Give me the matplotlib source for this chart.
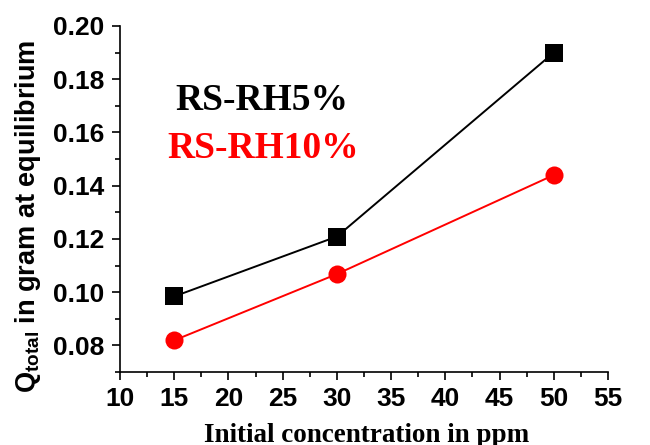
import matplotlib
matplotlib.use("Agg")
import matplotlib.pyplot as plt
from matplotlib.ticker import MultipleLocator, FormatStrFormatter

plt.rcParams['mathtext.fontset'] = 'custom'
plt.rcParams['mathtext.rm'] = 'Liberation Sans:bold'
plt.rcParams['mathtext.it'] = 'Liberation Sans:bold'
plt.rcParams['mathtext.bf'] = 'Liberation Sans:bold'

concentration = [15, 30, 50]
q_rh5 = [0.0984, 0.1209, 0.1900]
q_rh10 = [0.0819, 0.1068, 0.1440]

fig = plt.figure(figsize=(6.5, 4.45), dpi=100)
ax = fig.add_axes([0.1846, 0.164, 0.7508, 0.7776])

ax.plot(concentration, q_rh5, color='black', lw=1.4, marker='s', ms=12.5,
        markeredgewidth=0)
ax.plot(concentration, q_rh10, color='#ff0000', lw=1.4, marker='o', ms=13,
        markeredgewidth=0)

ax.set_xlim(10, 55)
ax.set_ylim(0.07, 0.20)
ax.xaxis.set_major_locator(MultipleLocator(5))
ax.xaxis.set_minor_locator(MultipleLocator(2.5))
ax.yaxis.set_major_locator(MultipleLocator(0.02))
ax.yaxis.set_minor_locator(MultipleLocator(0.01))
ax.yaxis.set_major_formatter(FormatStrFormatter('%.2f'))

for side in ['top', 'right']:
    ax.spines[side].set_visible(False)
for side in ['left', 'bottom']:
    ax.spines[side].set_linewidth(1.2)

ax.tick_params(which='major', direction='out', length=6, width=1.2, pad=5)
ax.tick_params(which='minor', direction='out', length=3.5, width=1.2)
for lab in ax.get_xticklabels() + ax.get_yticklabels():
    lab.set_fontfamily('Liberation Sans')
    lab.set_fontweight('bold')
    lab.set_fontsize(19)

ax.set_xlabel('Initial concentration in ppm', fontfamily='Liberation Serif',
              fontweight='bold', fontsize=19.5)
ax.xaxis.set_label_coords(0.506, -0.146)
ax.set_ylabel(r'Q$_{total}$ in gram at equilibrium', fontfamily='Liberation Sans',
              fontweight='bold', fontsize=19.5)
ax.yaxis.set_label_coords(-0.158, 0.451)

ax.text(0.1127, 0.757, 'RS-RH5%', transform=ax.transAxes, color='black',
        fontfamily='Liberation Serif', fontweight='bold', fontsize=27, va='baseline')
ax.text(0.0963, 0.618, 'RS-RH10%', transform=ax.transAxes, color='#ff0000',
        fontfamily='Liberation Serif', fontweight='bold', fontsize=27, va='baseline')

fig.savefig('out.png', dpi=100)
